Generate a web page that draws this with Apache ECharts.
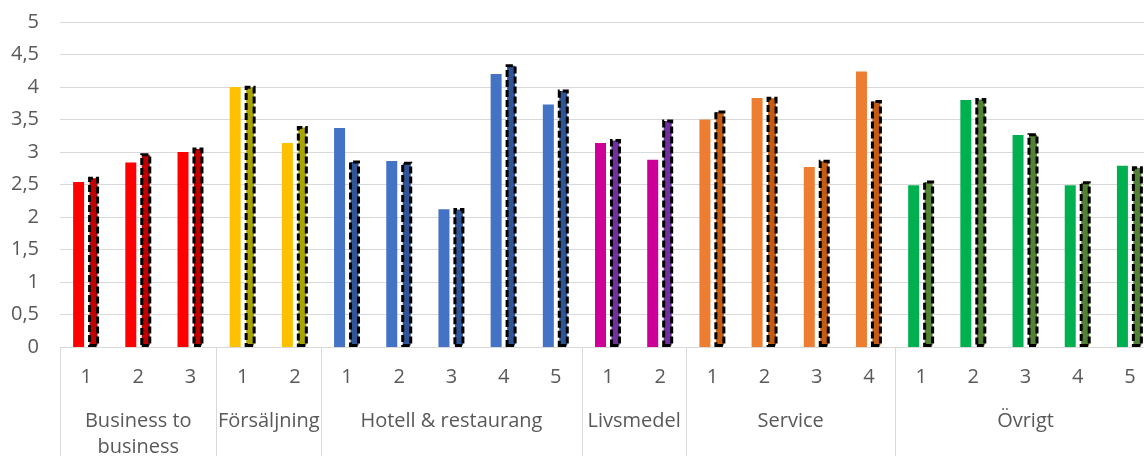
<!DOCTYPE html>
<html>
<head>
<meta charset="utf-8">
<script src="https://cdn.jsdelivr.net/npm/echarts@6/dist/echarts.min.js"></script>
<style>html,body{margin:0;padding:0;background:#fff;overflow:hidden}#c{width:1144px;height:456px}</style>
</head>
<body>
<div id="c"></div>
<script>
const groupNames = ['Business to\nbusiness', 'Försäljning', 'Hotell & restaurang', 'Livsmedel', 'Service', 'Övrigt'];
const groupSizes = [3, 2, 5, 2, 4, 5];
const subLabels = ['1','2','3', '1','2', '1','2','3','4','5', '1','2', '1','2','3','4', '1','2','3','4','5'];
const seriesA = [2.54, 2.84, 3.00, 4.00, 3.14, 3.37, 2.86, 2.12, 4.20, 3.73, 3.14, 2.88, 3.50, 3.83, 2.77, 4.24, 2.49, 3.80, 3.26, 2.49, 2.79];
const seriesB = [2.62, 2.98, 3.07, 4.02, 3.40, 2.87, 2.85, 2.14, 4.35, 3.96, 3.20, 3.50, 3.64, 3.85, 2.88, 3.80, 2.56, 3.83, 3.29, 2.55, 2.78];
const solidColors = ['#FF0000', '#FFC000', '#4472C4', '#CC0099', '#ED7D31', '#00B050'];
const darkColors  = ['#C00000', '#A9A400', '#2F5597', '#7030A0', '#C55A11', '#548235'];
const yTickLabels = ['0','0,5','1','1,5','2','2,5','3','3,5','4','4,5','5'];

// group index per category
const groupOf = [];
groupSizes.forEach((n, g) => { for (let i = 0; i < n; i++) groupOf.push(g); });

// secondary (group) axis: half-step points
const nCats = subLabels.length;
const halfData = new Array(2 * nCats + 1).fill('');
const dividerIdx = new Set([0]);
const centerIdx = new Set();
let start = 0;
groupSizes.forEach((n, g) => {
  const c = start * 2 + n;
  halfData[c] = groupNames[g];
  centerIdx.add(c);
  start += n;
  dividerIdx.add(start * 2);
});

const font = 'Open Sans';
const chart = echarts.init(document.getElementById('c'));
chart.setOption({
  animation: false,
  textStyle: { fontFamily: font },
  grid: { left: 60, right: -12, top: 22, bottom: 109, containLabel: false, outerBoundsMode: 'none' },
  xAxis: [
    {
      type: 'category',
      data: subLabels,
      position: 'bottom',
      axisLine: { show: true, lineStyle: { color: '#d9d9d9', width: 1 } },
      axisTick: { show: false },
      axisLabel: { color: '#595959', fontSize: 20, fontFamily: font, margin: 20, interval: 0 }
    },
    {
      type: 'category',
      data: halfData,
      boundaryGap: false,
      position: 'bottom',
      axisLine: { show: false },
      axisTick: {
        show: true, length: 115, lineStyle: { color: '#d9d9d9', width: 1 },
        interval: (i) => dividerIdx.has(i)
      },
      axisLabel: {
        color: '#595959', fontSize: 20, fontFamily: font, margin: 61, lineHeight: 26,
        interval: (i) => centerIdx.has(i)
      },
      splitLine: { show: false }
    }
  ],
  yAxis: {
    type: 'value', min: 0, max: 5, interval: 0.5,
    axisLine: { show: false },
    axisTick: { show: false },
    splitLine: { lineStyle: { color: '#d9d9d9', width: 1 } },
    axisLabel: {
      color: '#595959', fontSize: 20, fontFamily: font, margin: 21,
      formatter: (v) => yTickLabels[Math.round(v * 2)]
    }
  },
  series: [
    {
      type: 'bar', xAxisIndex: 0, barWidth: 11, barGap: '36%',
      data: seriesA.map((v, i) => ({ value: v, itemStyle: { color: solidColors[groupOf[i]] } }))
    },
    {
      type: 'bar', xAxisIndex: 0, barWidth: 11,
      data: seriesB.map((v, i) => ({
        value: v,
        itemStyle: { color: darkColors[groupOf[i]], borderColor: '#000', borderWidth: 3, borderType: [7, 3] }
      }))
    }
  ]
});
</script>
</body>
</html>
